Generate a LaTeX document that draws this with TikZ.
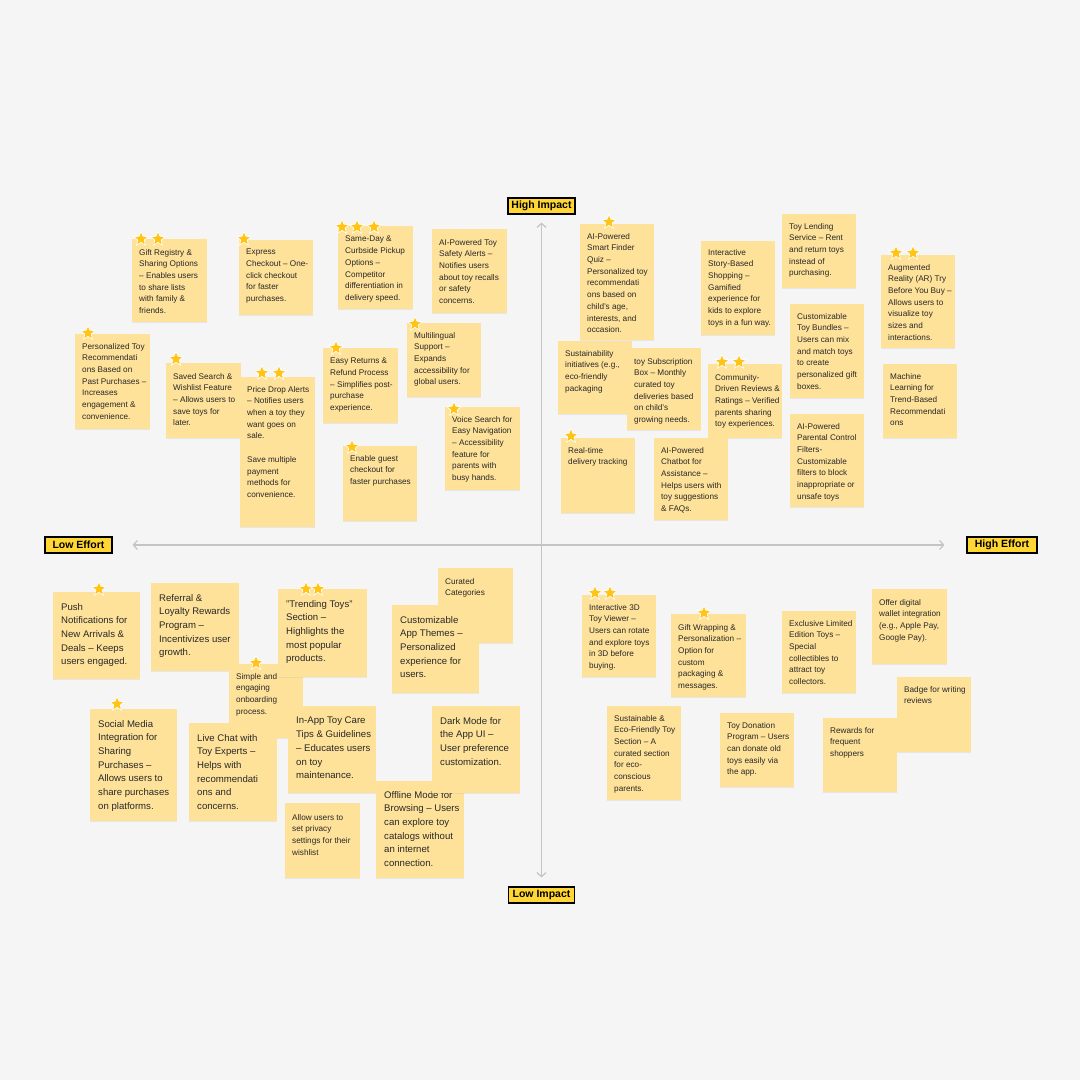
\documentclass[tikz,border=0pt]{standalone}
\usepackage{fontspec}
\setmainfont{Liberation Sans}
\usetikzlibrary{shapes.geometric,arrows.meta,shadows}
\definecolor{bg}{HTML}{F5F5F5}
\definecolor{notec}{HTML}{FFE29A}
\definecolor{txtc}{HTML}{282828}
\definecolor{starc}{HTML}{FFC414}
\definecolor{labc}{HTML}{FFD633}
\definecolor{axisc}{HTML}{C4C4C4}
% name, left, top, right, bottom, text style, first line centre y, text
\newcommand\stk[8]{%
  \node[notebox, anchor=north west, minimum width={#4-#2}, minimum height={#5-#3}] (#1) at (#2,#3) {};
  \node[#6] (#1-t) at (#2,#7) {#8};
}
\begin{document}
\begin{tikzpicture}[x=1pt,y=-1pt,
  notebox/.style={fill=notec, draw=none, inner sep=0pt,
    drop shadow={shadow xshift=0pt, shadow yshift=-1pt, opacity=0.12}},
  smalltxt/.style={anchor=north west, align=left, inner sep=0pt, text=txtc,
    font=\fontsize{8.2}{11.7}\selectfont, xshift=7pt, yshift=3pt},
  bigtxt/.style={anchor=north west, align=left, inner sep=0pt, text=txtc,
    font=\fontsize{9.6}{13.7}\selectfont, xshift=8pt, yshift=4pt},
  starmark/.style={star, star points=5, star point ratio=2.2, minimum size=15pt,
    inner sep=0pt, fill=starc, draw=white, line width=0.7pt},
  lab/.style={draw=black, line width=1.2pt, fill=labc, inner sep=0pt,
    minimum height=16pt, font=\bfseries\fontsize{10.5}{12}\selectfont, text=black},
  axisline/.style={draw=axisc, line width=1.2pt,
    {Straight Barb[length=4pt,width=9pt]}-{Straight Barb[length=4pt,width=9pt]}}
]
\fill[bg] (0,0) rectangle (1080,1080);
\useasboundingbox (0,0) rectangle (1080,1080);

% axis labels and axes
\node[lab, minimum width=67pt] (hi) at (541.5,206) {High Impact};
\node[lab, minimum width=66pt] (lo) at (541.5,895) {Low Impact};
\node[lab, minimum width=67pt] (le) at (78.5,545) {Low Effort};
\node[lab, minimum width=70pt] (he) at (1002,545) {High Effort};
\draw[axisline, shorten <=8pt, shorten >=9pt] (hi) -- (lo);
\draw[axisline, shorten <=20pt, shorten >=22pt] (le) -- (he);

% ---------- top-left quadrant ----------
\stk{gift}{132}{239}{207}{322}{smalltxt}{252}{Gift Registry \&\\Sharing Options\\– Enables users\\to share lists\\with family \&\\friends.}
\stk{express}{239}{240}{313}{315}{smalltxt}{252}{Express\\Checkout – One-\\click checkout\\for faster\\purchases.}
\stk{sameday}{338}{226}{413}{309}{smalltxt}{239}{Same-Day \&\\Curbside Pickup\\Options –\\Competitor\\differentiation in\\delivery speed.}
\stk{safety}{432}{229}{507}{313}{smalltxt}{242}{AI-Powered Toy\\Safety Alerts –\\Notifies users\\about toy recalls\\or safety\\concerns.}
\stk{persrec}{75}{334}{150}{429}{smalltxt}{346}{Personalized Toy\\Recommendati\\ons Based on\\Past Purchases –\\Increases\\engagement \&\\convenience.}
\stk{saved}{166}{363}{241}{438}{smalltxt}{376}{Saved Search \&\\Wishlist Feature\\– Allows users to\\save toys for\\later.}
\stk{price}{240}{377}{315}{527}{smalltxt}{389}{Price Drop Alerts\\– Notifies users\\when a toy they\\want goes on\\sale.\\[11.7pt]Save multiple\\payment\\methods for\\convenience.}
\stk{returns}{323}{348}{398}{423}{smalltxt}{361}{Easy Returns \&\\Refund Process\\– Simplifies post-\\purchase\\experience.}
\stk{multi}{407}{323}{481}{397}{smalltxt}{335}{Multilingual\\Support –\\Expands\\accessibility for\\global users.}
\stk{voice}{445}{407}{520}{490}{smalltxt}{419}{Voice Search for\\Easy Navigation\\– Accessibility\\feature for\\parents with\\busy hands.}
\stk{guest}{343}{446}{417}{521}{smalltxt}{458}{Enable guest\\checkout for\\faster purchases}

% ---------- top-right quadrant ----------
\stk{finder}{580}{224}{654}{340}{smalltxt}{236}{AI-Powered\\Smart Finder\\Quiz –\\Personalized toy\\recommendati\\ons based on\\child's age,\\interests, and\\occasion.}
\stk{story}{701}{241}{775}{335}{smalltxt}{252}{Interactive\\Story-Based\\Shopping –\\Gamified\\experience for\\kids to explore\\toys in a fun way.}
\stk{lending}{782}{214}{856}{288}{smalltxt}{226}{Toy Lending\\Service – Rent\\and return toys\\instead of\\purchasing.}
\stk{ar}{881}{255}{955}{348}{smalltxt}{267}{Augmented\\Reality (AR) Try\\Before You Buy –\\Allows users to\\visualize toy\\sizes and\\interactions.}
\stk{bundles}{790}{304}{864}{398}{smalltxt}{316}{Customizable\\Toy Bundles –\\Users can mix\\and match toys\\to create\\personalized gift\\boxes.}
\stk{sustain}{558}{341}{632}{414}{smalltxt}{353}{Sustainability\\initiatives (e.g.,\\eco-friendly\\packaging}
\stk{subs}{627}{348}{701}{430}{smalltxt}{361}{toy Subscription\\Box – Monthly\\curated toy\\deliveries based\\on child's\\growing needs.}
\stk{community}{708}{364}{782}{438}{smalltxt}{377}{Community-\\Driven Reviews \&\\Ratings – Verified\\parents sharing\\toy experiences.}
\stk{realtime}{561}{438}{635}{513}{smalltxt}{450}{Real-time\\delivery tracking}
\stk{chatbot}{654}{438}{728}{520}{smalltxt}{450}{AI-Powered\\Chatbot for\\Assistance –\\Helps users with\\toy suggestions\\\& FAQs.}
\stk{parental}{790}{414}{864}{507}{smalltxt}{426}{AI-Powered\\Parental Control\\Filters-\\Customizable\\filters to block\\inappropriate or\\unsafe toys}
\stk{ml}{883}{364}{957}{438}{smalltxt}{376}{Machine\\Learning for\\Trend-Based\\Recommendati\\ons}

% ---------- bottom-left quadrant ----------
\stk{push}{53}{592}{140}{679}{bigtxt}{607}{Push\\Notifications for\\New Arrivals \&\\Deals – Keeps\\users engaged.}
\stk{referral}{151}{583}{239}{671}{bigtxt}{598}{Referral \&\\Loyalty Rewards\\Program –\\Incentivizes user\\growth.}
\stk{simple}{229}{664}{303}{738}{smalltxt}{676}{Simple and\\engaging\\onboarding\\process.}
\stk{trending}{278}{589}{367}{677}{bigtxt}{604}{"Trending Toys"\\Section –\\Highlights the\\most popular\\products.}
\stk{social}{90}{709}{177}{821}{bigtxt}{724}{Social Media\\Integration for\\Sharing\\Purchases –\\Allows users to\\share purchases\\on platforms.}
\stk{livechat}{189}{723}{277}{821}{bigtxt}{738}{Live Chat with\\Toy Experts –\\Helps with\\recommendati\\ons and\\concerns.}
\stk{curated}{438}{568}{513}{643}{smalltxt}{581}{Curated\\Categories}
\stk{themes}{392}{605}{479}{693}{bigtxt}{620}{Customizable\\App Themes –\\Personalized\\experience for\\users.}
\stk{inapp}{288}{706}{376}{793}{bigtxt}{721}{In-App Toy Care\\Tips \& Guidelines\\– Educates users\\on toy\\maintenance.}
\stk{offline}{376}{781}{464}{878}{bigtxt}{795}{Offline Mode for\\Browsing – Users\\can explore toy\\catalogs without\\an internet\\connection.}
\stk{dark}{432}{706}{520}{793}{bigtxt}{721}{Dark Mode for\\the App UI –\\User preference\\customization.}
\stk{allow}{285}{803}{360}{878}{smalltxt}{817}{Allow users to\\set privacy\\settings for their\\wishlist}

% ---------- bottom-right quadrant ----------
\stk{viewer}{582}{595}{656}{677}{smalltxt}{607}{Interactive 3D\\Toy Viewer –\\Users can rotate\\and explore toys\\in 3D before\\buying.}
\stk{wrap}{671}{614}{746}{697}{smalltxt}{627}{Gift Wrapping \&\\Personalization –\\Option for\\custom\\packaging \&\\messages.}
\stk{ecosec}{607}{706}{681}{800}{smalltxt}{718}{Sustainable \&\\Eco-Friendly Toy\\Section – A\\curated section\\for eco-\\conscious\\parents.}
\stk{donation}{720}{713}{794}{787}{smalltxt}{725}{Toy Donation\\Program – Users\\can donate old\\toys easily via\\the app.}
\stk{exclusive}{782}{611}{856}{693}{smalltxt}{623}{Exclusive Limited\\Edition Toys –\\Special\\collectibles to\\attract toy\\collectors.}
\stk{wallet}{872}{589}{947}{664}{smalltxt}{602}{Offer digital\\wallet integration\\(e.g., Apple Pay,\\Google Pay).}
\stk{badge}{897}{677}{971}{752}{smalltxt}{689}{Badge for writing\\reviews}
\stk{rewards}{823}{718}{897}{792}{smalltxt}{730}{Rewards for\\frequent\\shoppers}

% ---------- stars ----------
\node[starmark] (s-gift1) at (141,239) {};
\node[starmark] (s-gift2) at (158,239) {};
\node[starmark] (s-express) at (244,239) {};
\node[starmark] (s-same1) at (342,227) {};
\node[starmark] (s-same2) at (357,227) {};
\node[starmark] (s-same3) at (374,227) {};
\node[starmark] (s-finder) at (609,222) {};
\node[starmark] (s-ar1) at (896,253) {};
\node[starmark] (s-ar2) at (913,253) {};
\node[starmark] (s-persrec) at (88,333) {};
\node[starmark] (s-saved) at (176,359) {};
\node[starmark] (s-price1) at (262,373) {};
\node[starmark] (s-price2) at (279,373) {};
\node[starmark] (s-returns) at (336,348) {};
\node[starmark] (s-multi) at (415,324) {};
\node[starmark] (s-voice) at (454,409) {};
\node[starmark] (s-guest) at (352,447) {};
\node[starmark] (s-comm1) at (722,362) {};
\node[starmark] (s-comm2) at (739,362) {};
\node[starmark] (s-realtime) at (571,436) {};
\node[starmark] (s-push) at (99,589) {};
\node[starmark] (s-simple) at (256,663) {};
\node[starmark] (s-social) at (117,704) {};
\node[starmark] (s-trend1) at (306,589) {};
\node[starmark] (s-trend2) at (318,589) {};
\node[starmark] (s-viewer1) at (595,593) {};
\node[starmark] (s-viewer2) at (610,593) {};
\node[starmark] (s-wrap) at (704,613) {};
\end{tikzpicture}
\end{document}
